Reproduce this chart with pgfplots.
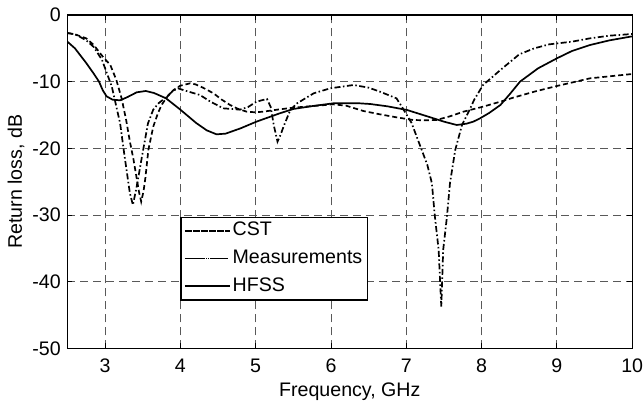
\documentclass[border=0pt]{standalone}
\usepackage{fontspec}
\setmainfont{Liberation Sans}
\usepackage{pgfplots}
\pgfplotsset{compat=1.18}

\begin{document}
\fontsize{19.6bp}{23bp}\selectfont
\begin{tikzpicture}
	\begin{axis}[
			scale only axis,
			width=564.8bp, height=333.3bp,
			xmin=2.5, xmax=10,
			ymin=-50, ymax=0,
			xtick={3,4,5,6,7,8,9,10},
			xticklabels={3,4,5,6,7,8,9,10},
			ytick={-50,-40,-30,-20,-10,0},
			yticklabels={-50,-40,-30,-20,-10,0},
			xticklabel style={yshift=-4bp},
			tick align=inside,
			major tick length=5bp,
			tick style={black, line width=0.8bp},
			axis line style={line width=1.2bp},
			grid=major,
			major grid style={black!65, line width=0.8bp, dash pattern=on 8bp off 5bp},
			xlabel={Frequency, GHz},
			ylabel={Return loss, dB},
			xlabel style={at={(axis description cs:0.5,-0.1449)}, anchor=base},
			ylabel style={at={(axis description cs:-0.0806,0.5)}, anchor=base, rotate=0},
			legend style={
					at={(axis cs:4,-30.25)}, anchor=north west,
					draw=black, line width=1.2bp, fill=white,
					row sep=4bp,
					nodes={inner sep=2pt, text height=0.75em, text depth=0.25em},
				},
			legend cell align=left,
			legend image code/.code={
					\path (0bp,0bp) -- (45bp,0bp);
					\draw[#1] (2bp,0bp) -- (40bp,0bp);
				},
		]

		% CST
		\addplot[black, line width=1.7bp, dash pattern=on 5bp off 3bp] coordinates {
			(2.5,-2.7) (2.6,-2.9) (2.75,-3.5) (2.85,-4.5) (2.97,-6.25) (3.07,-7.5)
			(3.15,-9.75) (3.22,-12.5) (3.28,-15.75) (3.33,-19) (3.375,-21.5) (3.42,-24.5)
			(3.45,-26.5) (3.48,-28) (3.51,-26.5) (3.535,-24.5) (3.575,-20.25) (3.64,-16.75)
			(3.70,-14.8) (3.75,-13.5) (3.83,-12.2) (3.91,-11.25) (4.0,-10.6) (4.13,-10.25)
			(4.2,-10.4) (4.3,-10.9) (4.44,-11.75) (4.55,-12.7) (4.66,-13.5) (4.77,-14.1)
			(4.88,-14.5) (5.0,-14.6) (5.1,-14.5) (5.32,-14.15) (5.5,-13.9) (5.77,-13.65)
			(6.03,-13.4) (6.2,-13.6) (6.43,-14.4) (6.65,-14.9) (6.87,-15.35) (7.09,-15.75)
			(7.25,-15.8) (7.40,-15.75) (7.58,-15.2) (7.76,-14.5) (8.02,-13.75) (8.25,-13.0)
			(8.42,-12.4) (8.7,-11.5) (9.0,-10.65) (9.44,-9.5) (10,-8.85)
		};
		\addlegendentry{CST}

		% Measurements
		\addplot[black, line width=1.7bp, dash pattern=on 6bp off 2.5bp on 1.5bp off 2.5bp] coordinates {
			(2.5,-2.7) (2.6,-2.9) (2.67,-3.3) (2.75,-3.8) (2.85,-4.8) (2.96,-6.75) (3.09,-10.75)
			(3.2,-16.25) (3.26,-21.25) (3.33,-26.75) (3.37,-28.5) (3.42,-25.75) (3.49,-21.25)
			(3.57,-16.25) (3.64,-14.2) (3.71,-13.25) (3.82,-12.25) (3.9,-11.4) (3.97,-11.0)
			(4.05,-11.3) (4.26,-12.0) (4.4,-13.0) (4.57,-14.0) (4.79,-14.2) (4.9,-13.8)
			(5.01,-13.0) (5.15,-12.6) (5.2,-13.8) (5.24,-16.5) (5.29,-19.0) (5.33,-18)
			(5.37,-16.75) (5.46,-14.25) (5.55,-13.25) (5.77,-11.75) (5.99,-11.0) (6.3,-10.5)
			(6.5,-10.9) (6.65,-11.5) (6.87,-12.5) (6.94,-13.75) (7.07,-16.2) (7.18,-19.5)
			(7.28,-22.5) (7.34,-25.25) (7.38,-30.25) (7.43,-35.25) (7.45,-40.25) (7.465,-43.75)
			(7.49,-35.25) (7.54,-30.25) (7.58,-25.25) (7.65,-20.25) (7.74,-16.5) (7.85,-14.0)
			(7.9,-12.75) (7.98,-11.25) (8.02,-10.5) (8.25,-8.25) (8.5,-5.9) (8.7,-5.0)
			(8.9,-4.4) (9.2,-4.0) (9.44,-3.5) (9.7,-3.1) (10,-2.85)
		};
		\addlegendentry{Measurements}

		% HFSS
		\addplot[black, line width=1.7bp] coordinates {
			(2.5,-4.0) (2.6,-5.0) (2.75,-7.2) (2.85,-8.8) (2.92,-10) (2.97,-11.3) (3.02,-12.2)
			(3.1,-12.7) (3.2,-12.8) (3.3,-12.3) (3.42,-11.6) (3.54,-11.4) (3.65,-11.7)
			(3.81,-12.5) (4.0,-14.2) (4.21,-16.2) (4.35,-17.3) (4.48,-17.9) (4.6,-17.8)
			(4.8,-17.0) (5.01,-16.0) (5.32,-14.75) (5.5,-14.1) (5.76,-13.65) (6.03,-13.25)
			(6.38,-13.25) (6.52,-13.35) (6.75,-13.7) (7.01,-14.25) (7.32,-15.35) (7.5,-16.0)
			(7.67,-16.5) (7.8,-16.3) (7.89,-16.0) (7.98,-15.5) (8.1,-14.7) (8.25,-13.5)
			(8.38,-11.8) (8.51,-10) (8.75,-8.0) (9.0,-6.5) (9.2,-5.4) (9.44,-4.5) (9.7,-3.8)
			(10,-3.2)
		};
		\addlegendentry{HFSS}
	\end{axis}
	\pgfresetboundingbox
	\useasboundingbox (-67.4bp,-59.7bp) rectangle (576.6bp,348.3bp);
\end{tikzpicture}
\end{document}
